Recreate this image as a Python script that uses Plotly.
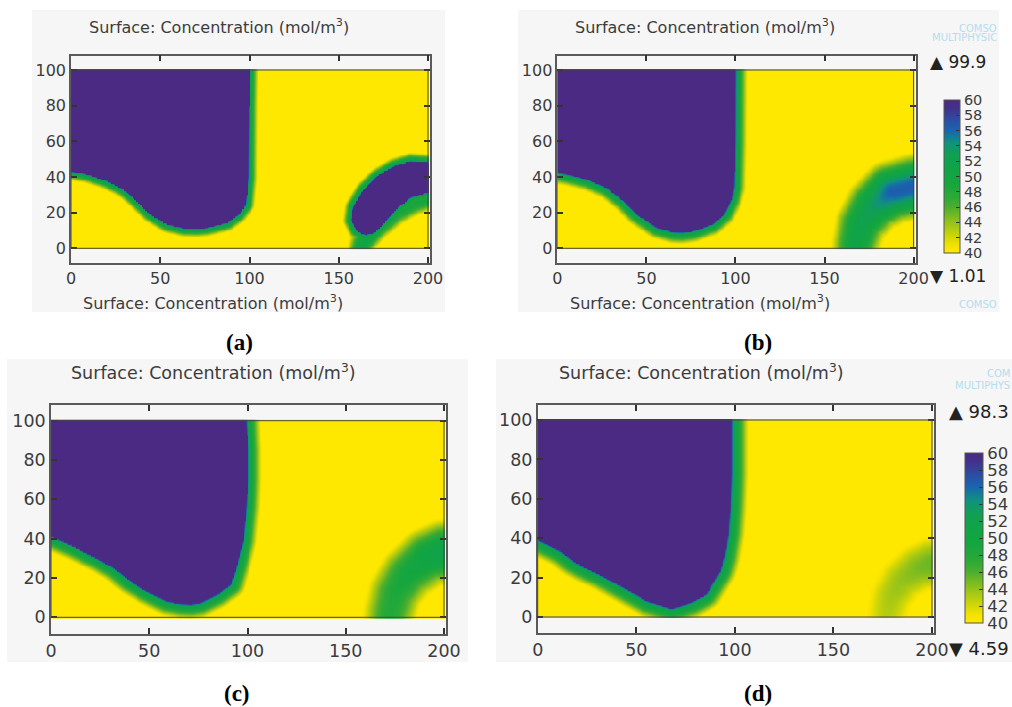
import numpy as np
import plotly.graph_objects as go

# ---------------- data ----------------
# purple (high concentration) region outlines, (x, y) in model units
REGION_A = [(-10, 110), (99.3, 110), (99.3, 100), (99.0, 80), (98.8, 40), (97.5, 25), (93.7, 19.6),
            (87.2, 14.9), (76.0, 12.1), (70.0, 11.6), (63.0, 11.8), (53.6, 14.0), (44.3, 19.6),
            (36.8, 27.1), (29.3, 33.6), (20.0, 38.3), (8.8, 42.0), (0.0, 43.5), (-10, 44.5)]
REGION_B = [(-10, 110), (99.6, 110), (99.6, 100), (99.4, 60), (98.8, 34.5), (96.9, 27.1), (93.2, 19.6),
            (86.7, 14.0), (76.3, 10.3), (70.0, 9.4), (65.0, 9.6), (55.8, 12.1), (44.6, 19.6),
            (37.1, 27.1), (27.7, 34.5), (16.5, 39.2), (5.3, 42.0), (0.0, 42.9), (-10, 44)]
REGION_C = [(-10, 110), (98.7, 110), (98.7, 100), (99.3, 85), (99.3, 70), (98.7, 56.3), (97.0, 39.3),
            (93.6, 25.7), (91.0, 17.3), (84.3, 12.2), (75.8, 7.9), (71.0, 7.1), (66.0, 7.4),
            (58.9, 8.8), (48.7, 13.9), (40.2, 19.0), (31.7, 25.7), (23.2, 30.8), (11.4, 36.8),
            (2.0, 41.0), (0.0, 41.8), (-10, 43)]
REGION_D = [(-10, 110), (97.9, 110), (97.9, 100), (97.9, 72.9), (97.2, 56.0), (96.2, 42.5), (94.1, 30.6),
            (92.1, 23.9), (89.1, 18.8), (84.9, 12.0), (77.3, 7.8), (72.0, 6.0), (67.7, 4.7),
            (55.3, 8.6), (43.4, 15.4), (31.6, 22.2), (18.1, 28.9), (11.3, 34.0), (4.6, 37.4),
            (0.0, 39.6), (-10, 41)]
# width of the green transition band around the purple region
BAND_WIDTH = {"a": 5.5, "b": 7.0, "c": 8.0, "d": 9.0}
# concentration across the band (fraction of band width -> value)
BAND_POS = [0.0, 0.06, 0.15, 0.55, 1.0, 3.0]
BAND_VAL = [60, 56, 52.5, 47, 40, 1]

# crescent-shaped purple spot of panel (a)
CRESCENT_A = [(164.7, 8.0), (160.0, 10.3), (157.3, 15.9), (158.2, 23.3), (163.8, 32.7), (171.3, 40.2),
              (180.6, 45.8), (189.9, 48.6), (199.3, 48.0), (210, 47), (210, 32.5), (199.3, 31.8),
              (189.9, 29.0), (182.5, 23.3), (175.9, 15.9), (169.4, 9.3)]

# diffuse spots: centre line, peak concentration and spread along it
HALO_A_LINE = [(161, -6), (163, 3), (171, 11), (182, 19.5), (192, 25), (200, 27.5), (210, 29)]
HALO_A_PEAK = [51, 51, 50, 49, 49, 49, 49]
HALO_A_SPREAD = [6.5, 6.5, 6, 6, 6, 6, 6]

SPOT_B_LINE = [(167, -6), (167.5, 3), (170.5, 14), (177.5, 24), (187, 31.5), (200, 35), (210, 36)]
SPOT_B_PEAK = [51, 51, 52, 53.5, 56.5, 56.5, 56]
SPOT_B_SPREAD = [11.8, 11.8, 12.5, 13.4, 13.8, 13.8, 13.8]

SPOT_C_LINE = [(172, -6), (172.5, 3), (175.2, 12.8), (181.5, 22.5), (191, 30.3), (200, 33.5), (210, 35)]
SPOT_C_PEAK = [48, 48, 48.5, 49.5, 51, 52, 51.5]
SPOT_C_SPREAD = [13.0, 13.0, 13.2, 13.4, 13.6, 13.8, 13.8]

SPOT_D_LINE = [(176.5, -6), (177, 2), (179.3, 10.5), (184.5, 19), (192.9, 25), (200, 27.5), (210, 28.5)]
SPOT_D_PEAK = [42.8, 43, 43.5, 44, 44.8, 45.2, 45]
SPOT_D_SPREAD = [14.5, 14.5, 14.7, 14.9, 15.1, 15.3, 15.3]

# colour-bar extremes shown in panels (b) and (d)
MAX_B, MIN_B = "99.9", "1.01"
MAX_D, MIN_D = "98.3", "4.59"
CBAR_TICKS = [40, 42, 44, 46, 48, 50, 52, 54, 56, 58, 60]
X_TICKS = [0, 50, 100, 150, 200]
Y_TICKS = [0, 20, 40, 60, 80, 100]
TITLE = "Surface: Concentration (mol/m<sup>3</sup>)"

# ---------------- field construction ----------------
XS = np.arange(0, 201, 1.0)
YS = np.arange(0, 101, 1.0)
GX, GY = np.meshgrid(XS, YS)


def _segments(pts, closed):
    P = np.asarray(pts, float)
    if closed:
        return P, np.roll(P, -1, axis=0)
    return P[:-1], P[1:]


def dist_to(pts, closed, vals=None):
    A, B = _segments(pts, closed)
    px, py = GX[..., None], GY[..., None]
    dx, dy = B[:, 0] - A[:, 0], B[:, 1] - A[:, 1]
    L2 = dx * dx + dy * dy
    t = np.clip(((px - A[:, 0]) * dx + (py - A[:, 1]) * dy) / L2, 0, 1)
    d = np.hypot(px - (A[:, 0] + t * dx), py - (A[:, 1] + t * dy))
    idx = np.argmin(d, axis=-1)
    dmin = np.take_along_axis(d, idx[..., None], -1)[..., 0]
    if vals is None:
        return dmin
    tmin = np.take_along_axis(t, idx[..., None], -1)[..., 0]
    V = np.asarray(vals, float)
    va, vb = V[:-1][idx], V[1:][idx]
    return dmin, va + tmin[..., None] * (vb - va)


def inside(pts):
    P = np.asarray(pts, float)
    res = np.zeros(GX.shape, bool)
    n = len(P)
    for i in range(n):
        x1, y1 = P[i]
        x2, y2 = P[(i + 1) % n]
        if y1 == y2:
            continue
        cond = (y1 > GY) != (y2 > GY)
        xint = x1 + (GY - y1) * (x2 - x1) / (y2 - y1)
        res ^= cond & (GX < xint)
    return res


def region(pts, w):
    d = dist_to(pts, True)
    return np.where(inside(pts), 100.0, np.interp(d / w, BAND_POS, BAND_VAL))


def spot(line, peak, spread):
    d, v = dist_to(line, False, np.column_stack([peak, spread]))
    pk, s = v[..., 0], v[..., 1]
    return 30.0 + (pk - 30.0) * np.exp(-0.5 * (d / s) ** 2)


def field(parts):
    z = np.maximum.reduce(parts)
    return np.round(np.clip(z, 1.0, 100.0), 1)


Z = {
    "a": field([region(REGION_A, BAND_WIDTH["a"]), region(CRESCENT_A, 5.5),
                spot(HALO_A_LINE, HALO_A_PEAK, HALO_A_SPREAD)]),
    "b": field([region(REGION_B, BAND_WIDTH["b"]), spot(SPOT_B_LINE, SPOT_B_PEAK, SPOT_B_SPREAD)]),
    "c": field([region(REGION_C, BAND_WIDTH["c"]), spot(SPOT_C_LINE, SPOT_C_PEAK, SPOT_C_SPREAD)]),
    "d": field([region(REGION_D, BAND_WIDTH["d"]), spot(SPOT_D_LINE, SPOT_D_PEAK, SPOT_D_SPREAD)]),
}

# ---------------- styling / layout ----------------
W, H = 1012, 707
COLORSCALE = [
    [0.00, "#ffe800"], [0.05, "#f2e200"], [0.10, "#d4d806"], [0.20, "#94c21a"],
    [0.30, "#4cae2e"], [0.36, "#2eaa36"], [0.45, "#16a63e"], [0.55, "#10a446"],
    [0.64, "#10a052"], [0.72, "#10927e"], [0.80, "#1866b0"], [0.88, "#2e4aa0"],
    [0.95, "#44308a"], [1.00, "#4a2a83"],
]
FONT = "DejaVu Sans"
TXT = "#3c3c3c"

# frame (l, r, t, b), data pixels (x0, x200, y100, y0), background box, font size
PANELS = {
    "a": dict(frame=(71, 430, 55.7, 262.7), data=(71, 428, 70, 248.3), bg=(32, 445, 10, 312), fs=16),
    "b": dict(frame=(557.3, 915.7, 55.7, 263), data=(557.3, 913.6, 70, 248.3), bg=(518, 999, 10, 312), fs=16),
    "c": dict(frame=(51, 445.7, 405, 634), data=(51, 444, 420.7, 617.3), bg=(7, 468, 359, 662), fs=17.5),
    "d": dict(frame=(537.7, 934, 405, 633), data=(537.7, 932, 420, 617), bg=(496, 1012, 359, 662), fs=17.5),
}


def px(x):
    return x / W


def py(y):
    return 1 - y / H


fig = go.Figure()
layout = dict(width=W, height=H, margin=dict(l=0, r=0, t=0, b=0, autoexpand=False),
              paper_bgcolor="white", plot_bgcolor="white", showlegend=False)
shapes, annotations = [], []

for i, key in enumerate(["a", "b", "c", "d"]):
    p = PANELS[key]
    fl, fr, ft, fb = p["frame"]
    dx0, dx200, dy100, dy0 = p["data"]
    sx = (dx200 - dx0) / 200.0
    sy = (dy0 - dy100) / 100.0
    xr = [(fl - dx0) / sx, (fr - dx0) / sx]
    yr = [-(fb - dy0) / sy, 100 + (dy100 - ft) / sy]
    sfx = "" if i == 0 else str(i + 1)
    fs = p["fs"]
    common = dict(showline=True, mirror="ticks", linecolor="#5a5a5a", linewidth=1.5,
                  ticks="inside", ticklen=6, tickwidth=1.5, tickcolor="#333",
                  showgrid=False, zeroline=False, fixedrange=True, automargin=False,
                  tickfont=dict(family=FONT, size=fs, color=TXT))
    layout["xaxis" + sfx] = dict(common, domain=[px(fl), px(fr)], range=xr, tickvals=X_TICKS,
                                 anchor="y" + sfx)
    layout["yaxis" + sfx] = dict(common, domain=[py(fb), py(ft)], range=yr, tickvals=Y_TICKS,
                                 anchor="x" + sfx)

    cb = None
    show = key in ("b", "d")
    if key == "b":
        cb = dict(x=px(944), xanchor="left", xpad=0, y=py(176.5), yanchor="middle", ypad=0,
                  thickness=16, thicknessmode="pixels", len=153, lenmode="pixels",
                  outlinecolor="#555", outlinewidth=1, ticks="inside", ticklen=4, tickcolor="#333",
                  tickvals=CBAR_TICKS, tickfont=dict(family=FONT, size=14.5, color=TXT))
    if key == "d":
        cb = dict(x=px(965), xanchor="left", xpad=0, y=py(538), yanchor="middle", ypad=0,
                  thickness=18, thicknessmode="pixels", len=170, lenmode="pixels",
                  outlinecolor="#555", outlinewidth=1, ticks="inside", ticklen=4, tickcolor="#333",
                  tickvals=CBAR_TICKS, tickfont=dict(family=FONT, size=16.5, color=TXT))
    fig.add_trace(go.Heatmap(x=XS, y=YS, z=Z[key], zmin=40, zmax=60, colorscale=COLORSCALE,
                             zsmooth="best", showscale=show, colorbar=cb,
                             xaxis="x" + sfx, yaxis="y" + sfx, hoverinfo="skip"))

    bl, br, bt, bb = p["bg"]
    shapes.append(dict(type="rect", xref="paper", yref="paper", x0=px(bl), x1=px(br),
                       y0=py(bb), y1=py(bt), fillcolor="#f6f6f6", line=dict(width=0), layer="below"))
    shapes.append(dict(type="rect", xref="x" + sfx, yref="y" + sfx, x0=0, x1=200, y0=0, y1=100,
                       line=dict(color="#444", width=1), layer="above"))

# titles
for (x, y, fs) in [(219, 26, 16), (705, 26, 16), (213, 302, 16), (700, 302, 16),
                   (213, 372, 17.5), (701, 372, 17.5)]:
    annotations.append(dict(text=TITLE, x=px(x), y=py(y), xref="paper", yref="paper",
                            showarrow=False, xanchor="center", yanchor="middle",
                            font=dict(family=FONT, size=fs, color=TXT)))

# max / min markers
for (txt, x, y, fs) in [("▲ " + MAX_B, 928, 62, 17), ("▼ " + MIN_B, 928, 276, 17),
                        ("▲ " + MAX_D, 947, 411, 18), ("▼ " + MIN_D, 947, 648, 18)]:
    annotations.append(dict(text=txt, x=px(x), y=py(y), xref="paper", yref="paper",
                            showarrow=False, xanchor="left", yanchor="middle",
                            font=dict(family=FONT, size=fs, color="#222")))

# watermarks (cropped in the original)
for (txt, x, y) in [("COMSO", 999, 28), ("MULTIPHYSIC", 999, 38), ("COMSO", 999, 304),
                    ("COM", 1012, 374), ("MULTIPHYS", 1012, 385)]:
    annotations.append(dict(text=txt, x=px(x), y=py(y), xref="paper", yref="paper",
                            showarrow=False, xanchor="right", yanchor="middle",
                            font=dict(family=FONT, size=10, color="#b5dcef")))

# panel letters
for (txt, x, y) in [("(a)", 239, 342), ("(b)", 758, 342), ("(c)", 237, 693), ("(d)", 758, 693)]:
    annotations.append(dict(text="<b>" + txt + "</b>", x=px(x), y=py(y), xref="paper", yref="paper",
                            showarrow=False, xanchor="center", yanchor="middle",
                            font=dict(family="Liberation Serif", size=23, color="black")))

layout["shapes"] = shapes
layout["annotations"] = annotations
fig.update_layout(**layout)
fig.write_html("out.html", config={"displayModeBar": False},
               post_script="document.body.style.margin='0';document.body.style.overflow='hidden';")
